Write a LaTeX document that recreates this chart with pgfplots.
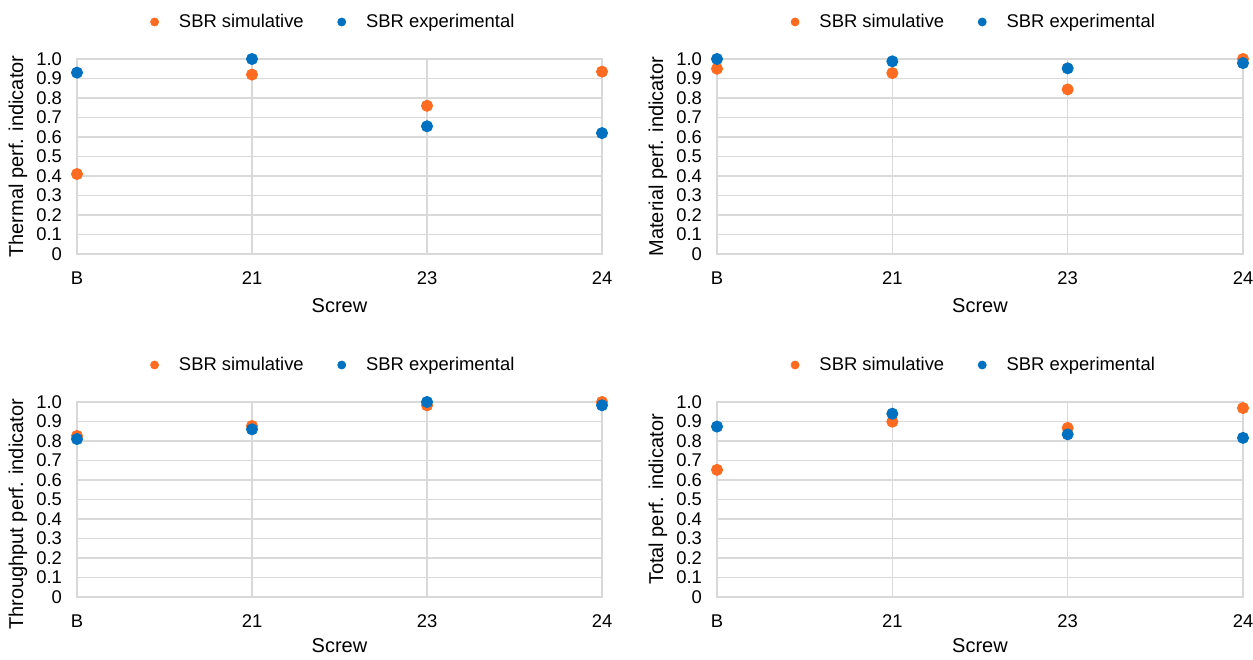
\documentclass[border=0pt]{standalone}
\usepackage{fontspec}
\setmainfont{Liberation Sans}
\usepackage{pgfplots}
\pgfplotsset{compat=1.18}
\definecolor{simc}{RGB}{255,107,33}
\definecolor{expc}{RGB}{0,112,192}
\definecolor{gridc}{RGB}{217,217,217}
\newcommand{\ff}{\fontsize{9.2}{11}\selectfont}
\pgfplotsset{
  panel/.style={
    scale only axis, width=262.5pt, height=97.5pt,
    xmin=0, xmax=3, ymin=0, ymax=1,
    xtick={0,1,2,3}, xticklabels={B,21,23,24},
    ytick={0,0.1,0.2,0.3,0.4,0.5,0.6,0.7,0.8,0.9,1.0},
    yticklabels={0,0.1,0.2,0.3,0.4,0.5,0.6,0.7,0.8,0.9,1.0},
    grid=major, major grid style={gridc, line width=0.6pt},
    axis line style={gridc, line width=0.6pt},
    tick style={draw=none},
    ticklabel style={font=\ff},
    label style={font=\ff},
    xticklabel style={yshift=-5.5pt},
    yticklabel style={xshift=-4pt},
    xlabel=Screw,
    every axis x label/.style={at={([yshift=-26pt]axis description cs:0.5,0)}, anchor=center, inner sep=0.5pt},
    every axis y label/.style={at={([xshift=-29.5pt]axis description cs:0,0.5)}, anchor=center, rotate=90},
    legend columns=2,
    legend style={draw=none, fill=none, font=\ff,
      at={([xshift=-2.5pt,yshift=18.5pt]axis description cs:0.5,1)}, anchor=center,
      /tikz/every even column/.append style={column sep=15pt}},
    legend image code/.code={\draw[mark size=2pt,#1] plot coordinates {(0pt,0pt)}; \path (10pt,0pt);},
    clip=false,
  },
  lowrow/.style={every axis x label/.style={at={([yshift=-24.5pt]axis description cs:0.5,0)}, anchor=center, inner sep=0.5pt}},
  sim/.style={only marks, mark=*, color=simc, mark size=2.8pt},
  exper/.style={only marks, mark=*, color=expc, mark size=2.8pt},
}
\begin{document}
\begin{tikzpicture}
\useasboundingbox (0,0) rectangle (626.5pt,329.5pt);
% Thermal
\begin{axis}[panel, at={(38.5pt,202.5pt)}, anchor=south west, ylabel={Thermal perf. indicator}]
\addplot[sim] coordinates {(0,0.41) (1,0.92) (2,0.76) (3,0.935)};
\addplot[exper] coordinates {(0,0.93) (1,1.0) (2,0.655) (3,0.62)};
\legend{SBR simulative, SBR experimental}
\end{axis}
% Material
\begin{axis}[panel, width=263pt, at={(358.5pt,202.5pt)}, anchor=south west, ylabel={Material perf. indicator}]
\addplot[sim] coordinates {(0,0.95) (1,0.928) (2,0.844) (3,1.0)};
\addplot[exper] coordinates {(0,1.0) (1,0.988) (2,0.952) (3,0.979)};
\legend{SBR simulative, SBR experimental}
\end{axis}
% Throughput
\begin{axis}[panel, lowrow, at={(38.5pt,31pt)}, anchor=south west, ylabel={Throughput perf. indicator},
  every axis y label/.style={at={([xshift=-29.5pt,yshift=-7.5pt]axis description cs:0,0.5)}, anchor=center, rotate=90}]
\addplot[sim] coordinates {(0,0.826) (1,0.877) (2,0.983) (3,1.0)};
\addplot[exper] coordinates {(0,0.81) (1,0.86) (2,1.0) (3,0.983)};
\legend{SBR simulative, SBR experimental}
\end{axis}
% Total
\begin{axis}[panel, lowrow, width=263pt, at={(358.5pt,31pt)}, anchor=south west, ylabel={Total perf. indicator}]
\addplot[sim] coordinates {(0,0.652) (1,0.899) (2,0.867) (3,0.969)};
\addplot[exper] coordinates {(0,0.874) (1,0.94) (2,0.834) (3,0.816)};
\legend{SBR simulative, SBR experimental}
\end{axis}
\end{tikzpicture}
\end{document}
